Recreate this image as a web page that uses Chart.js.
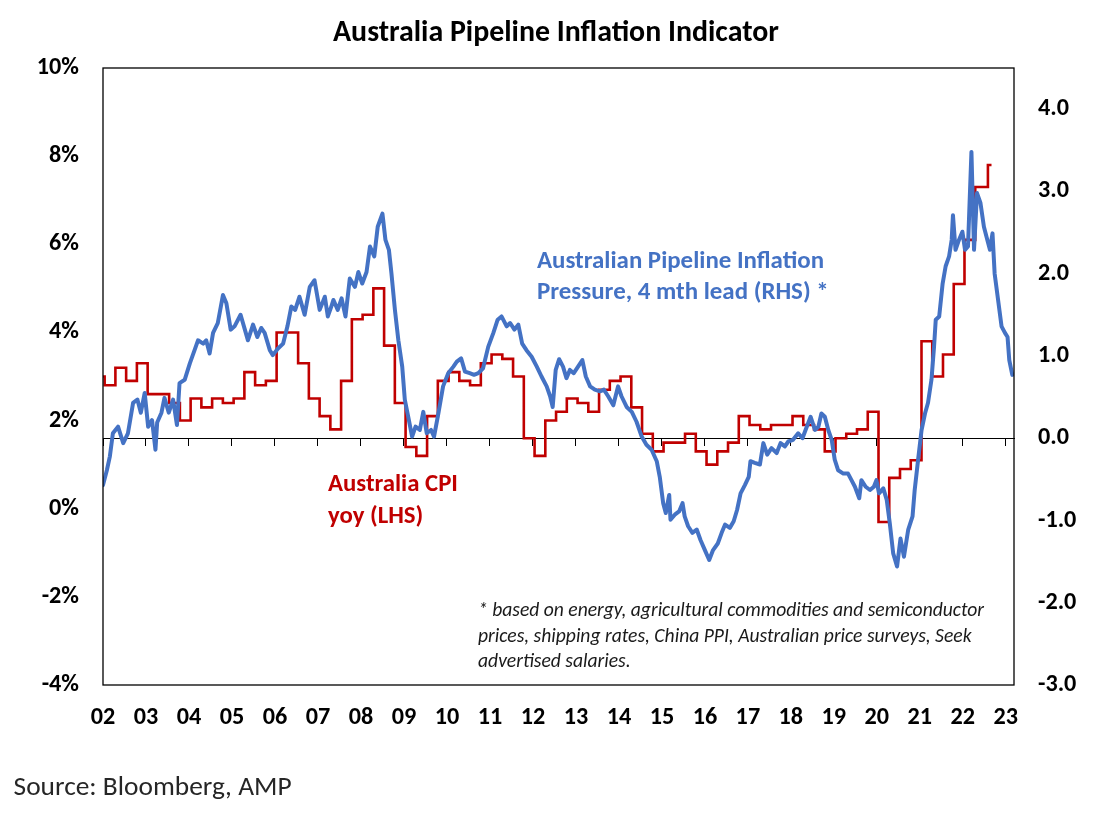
<!DOCTYPE html>
<html>
<head>
<meta charset="utf-8">
<script src="https://cdn.jsdelivr.net/npm/chart.js@4.4.1/dist/chart.umd.min.js"></script>
<style>
html,body{margin:0;padding:0;background:#ffffff;}
#wrap{position:relative;width:1107px;height:820px;overflow:hidden;background:#fff;}
#c{position:absolute;left:0;top:0;}
.t{position:absolute;white-space:nowrap;font-family:Carlito,Lato,'Open Sans',sans-serif;}
.t span{display:inline-block;}
</style>
</head>
<body>
<div id="wrap"><canvas id="c" width="1107" height="820"></canvas></div>
<script>
// ---------------- DATA ----------------
// Texts
const titleText = 'Australia Pipeline Inflation Indicator';
const pipelineNote = ['Australian Pipeline Inflation', 'Pressure, 4 mth lead (RHS) *'];
const cpiNote = ['Australia CPI', 'yoy (LHS)'];
const footnoteLines = [
  '* based on energy, agricultural commodities and semiconductor',
  'prices, shipping rates, China PPI, Australian price surveys, Seek',
  'advertised salaries.'
];
const sourceText = 'Source: Bloomberg, AMP';

// Tick labels
const tickYears = [2002,2003,2004,2005,2006,2007,2008,2009,2010,2011,2012,2013,2014,2015,2016,2017,2018,2019,2020,2021,2022,2023];
const yearLabels = ['02','03','04','05','06','07','08','09','10','11','12','13','14','15','16','17','18','19','20','21','22','23'];
const lhsTicks = [-4,-2,0,2,4,6,8,10];
const rhsTicks = [-3,-2,-1,0,1,2,3,4];

// Australia CPI yoy (LHS, %), stepped quarterly
const cpiDates = ['2001-10-15','2002-01-15','2002-04-15','2002-07-15','2002-10-15','2003-01-15','2003-04-15','2003-07-15','2003-10-15',
 '2004-01-15','2004-04-15','2004-07-15','2004-10-15','2005-01-15','2005-04-15','2005-07-15','2005-10-15',
 '2006-01-15','2006-04-15','2006-07-15','2006-10-15','2007-01-15','2007-04-15','2007-07-15','2007-10-15',
 '2008-01-15','2008-04-15','2008-07-15','2008-10-15','2009-01-15','2009-04-15','2009-07-15','2009-10-15',
 '2010-01-15','2010-04-15','2010-07-15','2010-10-15','2011-01-15','2011-04-15','2011-07-15','2011-10-15',
 '2012-01-15','2012-04-15','2012-07-15','2012-10-15','2013-01-15','2013-04-15','2013-07-15','2013-10-15',
 '2014-01-15','2014-04-15','2014-07-15','2014-10-15','2015-01-15','2015-04-15','2015-07-15','2015-10-15',
 '2016-01-15','2016-04-15','2016-07-15','2016-10-15','2017-01-15','2017-04-15','2017-07-15','2017-10-15',
 '2018-01-15','2018-04-15','2018-07-15','2018-10-15','2019-01-15','2019-04-15','2019-07-15','2019-10-15',
 '2020-01-15','2020-04-15','2020-07-15','2020-10-15','2021-01-15','2021-04-15','2021-07-15','2021-10-15',
 '2022-01-15','2022-04-15','2022-08-01','2022-09-01'];
const cpiValues = [3.0,2.8,3.2,2.9,3.3,2.6,2.6,2.4,2.0,
 2.5,2.3,2.5,2.4,2.5,3.1,2.8,2.9,
 4.0,4.0,3.3,2.5,2.1,1.8,2.9,4.3,
 4.4,5.0,3.7,2.4,1.4,1.2,2.1,2.9,
 3.1,2.9,2.8,3.3,3.5,3.4,3.0,1.6,
 1.2,2.0,2.2,2.5,2.4,2.2,2.7,2.9,
 3.0,2.3,1.7,1.3,1.5,1.5,1.7,1.3,
 1.0,1.3,1.5,2.1,1.9,1.8,1.9,1.9,
 2.1,1.9,1.8,1.3,1.6,1.7,1.8,2.2,
 -0.3,0.7,0.9,1.1,3.8,3.0,3.5,5.1,
 6.1,7.3,7.8,7.8];

// Australian Pipeline Inflation Pressure, 4 mth lead (RHS), decimal years
const pipelineYears = [2002.00,2002.09,2002.16,2002.23,2002.35,2002.47,2002.58,2002.70,2002.80,2002.88,2002.97,
 2003.05,2003.14,2003.22,2003.26,2003.36,2003.43,2003.53,2003.63,2003.72,2003.78,2003.90,
 2004.02,2004.13,2004.21,2004.33,2004.40,2004.48,2004.56,2004.67,2004.79,2004.87,2004.97,
 2005.06,2005.20,2005.30,2005.37,2005.49,2005.59,2005.68,2005.76,2005.88,2005.95,
 2006.07,2006.19,2006.29,2006.38,2006.47,2006.57,2006.69,2006.81,2006.92,
 2007.04,2007.16,2007.23,2007.31,2007.36,2007.46,2007.55,2007.64,2007.74,2007.86,2007.94,
 2008.03,2008.13,2008.21,2008.31,2008.39,2008.50,2008.57,2008.65,2008.71,2008.79,2008.87,2008.96,
 2009.02,2009.10,2009.19,2009.27,2009.37,2009.45,2009.53,2009.63,2009.70,2009.80,2009.91,
 2010.03,2010.15,2010.23,2010.33,2010.42,2010.53,2010.63,2010.73,2010.84,2010.96,
 2011.08,2011.18,2011.27,2011.39,2011.47,2011.57,2011.66,2011.75,2011.85,2011.97,
 2012.09,2012.20,2012.32,2012.40,2012.46,2012.53,2012.61,2012.70,2012.78,2012.86,2012.95,
 2013.05,2013.15,2013.23,2013.33,2013.44,2013.56,2013.65,2013.75,2013.87,2013.98,
 2014.06,2014.18,2014.30,2014.41,2014.53,2014.64,2014.76,2014.88,2014.95,
 2015.03,2015.09,2015.17,2015.20,2015.30,2015.40,2015.48,2015.53,2015.61,2015.71,2015.81,2015.90,
 2016.00,2016.10,2016.19,2016.30,2016.39,2016.47,2016.58,2016.67,2016.75,2016.83,2016.93,
 2017.02,2017.06,2017.16,2017.28,2017.36,2017.45,2017.55,2017.67,2017.76,2017.86,2017.94,
 2018.05,2018.17,2018.27,2018.37,2018.46,2018.56,2018.64,2018.71,2018.79,2018.87,2018.95,
 2019.02,2019.10,2019.22,2019.33,2019.41,2019.49,2019.59,2019.64,2019.74,2019.84,2019.93,2019.99,
 2020.05,2020.15,2020.23,2020.30,2020.38,2020.47,2020.55,2020.63,2020.73,2020.83,2020.88,2020.96,
 2021.04,2021.12,2021.19,2021.27,2021.33,2021.37,2021.45,2021.53,2021.60,2021.68,2021.74,2021.77,2021.83,2021.91,2021.99,
 2022.05,2022.12,2022.20,2022.26,2022.33,2022.41,2022.49,2022.57,2022.63,2022.69,2022.74,2022.82,2022.90,2022.98,
 2023.04,2023.08,2023.15];
const pipelineValues = [-0.57,-0.39,-0.22,0.06,0.14,-0.06,0.06,0.43,0.47,0.31,0.55,
 0.14,0.22,-0.14,0.19,0.31,0.49,0.31,0.47,0.16,0.67,0.71,
 0.91,1.07,1.19,1.15,1.19,1.03,1.28,1.40,1.74,1.64,1.32,
 1.36,1.50,1.32,1.19,1.38,1.23,1.34,1.28,1.07,1.01,
 1.09,1.15,1.36,1.60,1.56,1.72,1.50,1.84,1.92,
 1.56,1.72,1.48,1.60,1.68,1.56,1.70,1.48,1.94,1.84,2.02,
 1.88,2.02,2.33,2.21,2.57,2.73,2.41,2.29,2.00,1.56,1.19,0.87,
 0.47,0.26,0.02,0.14,0.10,0.32,0.06,0.10,0.02,0.30,0.63,
 0.79,0.87,0.93,0.97,0.81,0.79,0.77,0.79,0.85,1.11,
 1.28,1.44,1.48,1.36,1.40,1.32,1.38,1.15,1.07,0.99,
 0.87,0.75,0.63,0.51,0.38,0.83,0.96,0.87,0.73,0.83,0.79,
 0.87,0.95,0.75,0.63,0.59,0.57,0.59,0.51,0.40,0.63,
 0.51,0.38,0.32,0.20,0.02,-0.08,-0.14,-0.28,-0.47,
 -0.79,-0.91,-0.69,-0.99,-0.93,-0.89,-0.79,-0.95,-1.07,-1.15,-1.11,-1.24,
 -1.36,-1.48,-1.36,-1.28,-1.15,-1.05,-1.09,-1.01,-0.87,-0.67,-0.57,
 -0.47,-0.28,-0.30,-0.32,-0.06,-0.20,-0.12,-0.18,-0.06,-0.10,-0.04,
 -0.02,0.06,0.00,0.14,0.26,0.10,0.14,0.30,0.26,0.10,-0.02,
 -0.26,-0.39,-0.43,-0.43,-0.51,-0.59,-0.73,-0.51,-0.59,-0.63,-0.59,-0.51,
 -0.67,-0.61,-0.75,-1.03,-1.40,-1.56,-1.22,-1.44,-1.11,-0.95,-0.63,-0.26,
 0.10,0.30,0.43,0.71,1.11,1.44,1.48,1.88,2.09,2.21,2.41,2.71,2.29,2.41,2.51,
 2.29,2.33,3.48,2.29,2.98,2.86,2.57,2.41,2.29,2.49,2.00,1.68,1.36,1.28,
 1.23,0.95,0.77];

// ---------------- STYLE / LAYOUT ----------------
const FONT = "Carlito, Lato, 'Open Sans', sans-serif";
const BLUE = '#4472C4';
const RED = '#C00000';
const X_MIN = 2002, X_MAX = 2023.19;

function toYear(s) {
  const [y, m, d] = s.split('-').map(Number);
  return y + (m - 1) / 12 + (d - 1) / 365;
}

const pipelineData = pipelineYears.map((x, i) => ({x: x, y: pipelineValues[i]}));
const cpiData = cpiDates.map((d, i) => ({x: toYear(d), y: cpiValues[i]}));

// tick font sized so the digits are ~15px tall ("4.0" ~31px wide)
const mc = document.createElement('canvas').getContext('2d');
mc.font = 'bold 20px ' + FONT;
const tickSize = 20 * 31 / mc.measureText('4.0').width;
const tickFont = {family: FONT, size: tickSize, weight: 'bold'};

const framePlugin = {
  id: 'frame',
  afterDatasetsDraw(chart) {
    const a = chart.chartArea, c = chart.ctx;
    c.save();
    c.strokeStyle = '#000';
    c.lineWidth = 1.3;
    c.strokeRect(a.left, a.top, a.right - a.left, a.bottom - a.top);
    c.restore();
  }
};

const setTicks = arr => scale => { scale.ticks = arr.map(v => ({value: v})); };

new Chart(document.getElementById('c'), {
  type: 'line',
  data: {
    datasets: [
      {label: 'Australian Pipeline Inflation Pressure (RHS)', data: pipelineData, xAxisID: 'x', yAxisID: 'yR',
       borderColor: BLUE, borderWidth: 4, pointRadius: 0, tension: 0, borderJoinStyle: 'round', borderCapStyle: 'round'},
      {label: 'Australia CPI yoy (LHS)', data: cpiData, xAxisID: 'x', yAxisID: 'y',
       borderColor: RED, borderWidth: 2.6, pointRadius: 0, stepped: 'before', borderJoinStyle: 'miter'}
    ]
  },
  options: {
    responsive: false,
    animation: false,
    layout: {padding: {top: 68, left: 0, right: 0, bottom: 0}},
    plugins: {legend: {display: false}, tooltip: {enabled: false}, title: {display: false}},
    scales: {
      x: {
        type: 'linear', min: X_MIN, max: X_MAX, position: {yR: 0},
        afterBuildTicks: setTicks(tickYears),
        ticks: {display: false},
        grid: {drawOnChartArea: false, drawTicks: true, tickLength: 7, color: '#000', lineWidth: 1},
        border: {display: true, color: '#000', width: 1}
      },
      xb: {
        type: 'linear', axis: 'x', min: X_MIN, max: X_MAX, position: 'bottom',
        afterBuildTicks: setTicks(tickYears),
        afterFit: s => { s.height = 135; },
        ticks: {font: tickFont, color: '#000', padding: 717.5 - 685 - 0.564 * tickSize,
                maxRotation: 0, minRotation: 0, autoSkip: false,
                callback: (v, i) => yearLabels[i]},
        grid: {display: false, drawTicks: false},
        border: {display: false}
      },
      y: {
        type: 'linear', position: 'left', min: -4, max: 10,
        afterBuildTicks: setTicks(lhsTicks),
        afterFit: s => { s.width = 103; },
        ticks: {font: tickFont, color: '#000', padding: 24, callback: v => v + '%'},
        grid: {display: false, drawTicks: false},
        border: {display: false}
      },
      yR: {
        type: 'linear', position: 'right', min: -3, max: 4.5,
        afterBuildTicks: setTicks(rhsTicks),
        afterFit: s => { s.width = 93; },
        ticks: {font: tickFont, color: '#000', padding: 24, callback: v => v.toFixed(1)},
        grid: {display: false, drawTicks: false},
        border: {display: false}
      }
    }
  },
  plugins: [framePlugin]
});

// ---------------- TEXT OVERLAYS ----------------
const wrap = document.getElementById('wrap');
function placeText(lines, o) {
  const el = document.createElement('div');
  el.className = 't';
  el.style.fontWeight = o.weight || 'normal';
  el.style.fontStyle = o.style || 'normal';
  el.style.color = o.color;
  el.style.fontSize = '20px';
  const spans = lines.map(t => {
    const row = document.createElement('div');
    const s = document.createElement('span');
    s.textContent = t;
    row.appendChild(s);
    el.appendChild(row);
    return s;
  });
  wrap.appendChild(el);
  const w = spans[0].getBoundingClientRect().width;
  const fs = 20 * o.width / w;
  el.style.fontSize = fs.toFixed(2) + 'px';
  const lh = o.spacing || fs * 1.2;
  el.style.lineHeight = lh + 'px';
  el.style.left = o.x + 'px';
  el.style.top = (o.cy - lh / 2) + 'px';
}
placeText([titleText], {weight: 'bold', color: '#000', width: 446, x: 333, cy: 31.7});
placeText(pipelineNote, {weight: 'bold', color: BLUE, width: 287, x: 537, cy: 259.3, spacing: 31.4});
placeText(cpiNote, {weight: 'bold', color: RED, width: 130, x: 328, cy: 482.7, spacing: 32.3});
placeText(footnoteLines, {style: 'italic', color: '#1a1a1a', width: 506, x: 478, cy: 610, spacing: 25.1});
placeText([sourceText], {color: '#262626', width: 278, x: 13.6, cy: 786.7});
</script>
</body>
</html>
